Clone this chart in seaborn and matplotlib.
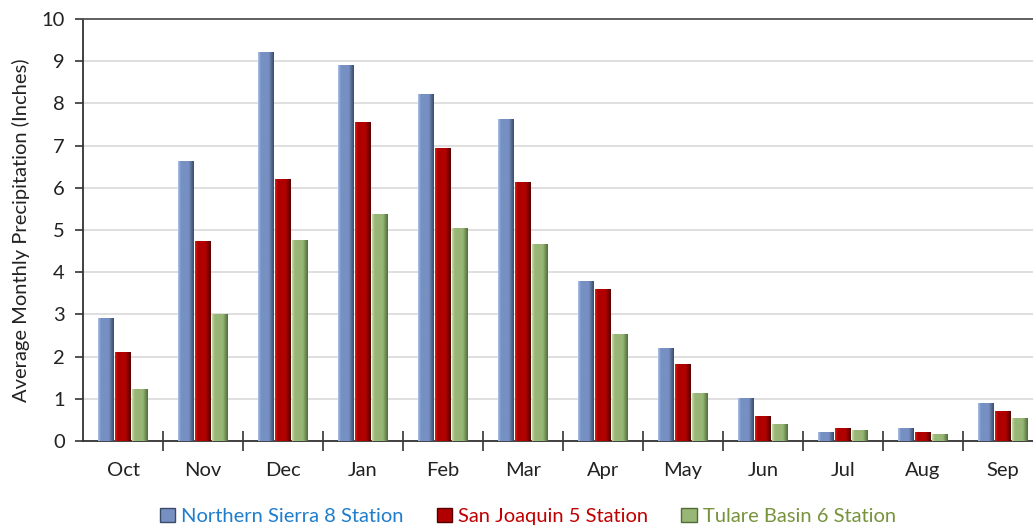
import numpy as np
import pandas as pd
import matplotlib
matplotlib.use("Agg")
import matplotlib.pyplot as plt
import seaborn as sns
from matplotlib.colors import LinearSegmentedColormap
from matplotlib.patches import Patch

months = ["Oct", "Nov", "Dec", "Jan", "Feb", "Mar", "Apr", "May", "Jun", "Jul", "Aug", "Sep"]
stations = ["Northern Sierra 8 Station", "San Joaquin 5 Station", "Tulare Basin 6 Station"]
northern_sierra = [2.92, 6.63, 9.22, 8.91, 8.22, 7.62, 3.80, 2.20, 1.02, 0.21, 0.30, 0.90]
san_joaquin = [2.12, 4.73, 6.22, 7.55, 6.94, 6.13, 3.61, 1.82, 0.60, 0.30, 0.21, 0.72]
tulare_basin = [1.23, 3.01, 4.76, 5.39, 5.05, 4.67, 2.54, 1.13, 0.41, 0.25, 0.16, 0.55]

df = pd.DataFrame({
    "Month": months * 3,
    "Station": [stations[0]] * 12 + [stations[1]] * 12 + [stations[2]] * 12,
    "Precip": northern_sierra + san_joaquin + tulare_basin,
})

base_colors = ["#7690C2", "#B00000", "#98B676"]
light_colors = ["#A9C0EA", "#E01A1A", "#C4DCA4"]
dark_colors = ["#3A4A68", "#550000", "#526C36"]
text_colors = ["#1F7DCC", "#C00000", "#77933C"]

sns.set_theme(style="white")
plt.rcParams["font.family"] = ["Lato", "DejaVu Sans"]
FS = 14.5

fig = plt.figure(figsize=(10.33, 5.29), dpi=100)
ax = fig.add_axes([83 / 1033, 88 / 529, 960 / 1033, 422 / 529])

sns.barplot(data=df, x="Month", y="Precip", hue="Station", order=months,
            hue_order=stations, palette=base_colors, width=0.65, gap=0.08,
            ax=ax, legend=False, saturation=1, edgecolor="none", zorder=3)

# bevel-like shading on each bar
bars = [p for p in ax.patches if p.get_height() > 0]
for p in bars:
    x0 = p.get_x()
    w = p.get_width()
    h = p.get_height()
    fc = p.get_facecolor()
    idx = int(np.argmin([np.sum((np.array(matplotlib.colors.to_rgb(c)) - np.array(fc[:3])) ** 2) for c in base_colors]))
    cmap = LinearSegmentedColormap.from_list(
        "b", [(0, light_colors[idx]), (0.18, base_colors[idx]), (0.68, base_colors[idx]), (1.0, dark_colors[idx])])
    grad = np.linspace(0, 1, 64).reshape(1, -1)
    im = ax.imshow(grad, extent=[x0, x0 + w, 0, h], aspect="auto", cmap=cmap,
                   zorder=3.5, interpolation="bilinear")
    im.set_clip_path(p)

ax.set_xlim(-0.5, 11.5)
ax.set_ylim(0, 10)
ax.set_yticks(range(0, 11))
ax.set_xticks(range(12))
ax.set_xticklabels(months)
ax.set_xticks(np.arange(0.5, 11.5, 1.0), minor=True)
ax.tick_params(axis="x", which="major", length=0, labelsize=FS, pad=15, colors="#222222")
ax.tick_params(axis="x", which="minor", direction="inout", length=15, width=1.2, color="#333333", bottom=True)
ax.tick_params(axis="y", which="major", direction="out", length=6, width=1.2, color="#333333",
               labelsize=FS, pad=7, left=True, labelcolor="#222222")
ax.yaxis.grid(True, color="#D9D9D9", linewidth=1.2, zorder=0)
ax.set_axisbelow(True)
ax.set_xlabel("")
ax.set_ylabel("Average Monthly Precipitation (Inches)", fontsize=FS, color="#222222", labelpad=8)

for side in ["left", "bottom", "top"]:
    ax.spines[side].set_visible(True)
    ax.spines[side].set_color("#333333")
    ax.spines[side].set_linewidth(1.3)
ax.spines["top"].set_color("#555555")
ax.spines["right"].set_visible(False)

handles = [Patch(facecolor=base_colors[i], edgecolor=dark_colors[i], linewidth=1) for i in range(3)]
leg = fig.legend(handles, stations, loc="center", bbox_to_anchor=(0.511, 0.024), ncol=3,
                 frameon=False, fontsize=FS, handlelength=0.75, handleheight=0.75,
                 handletextpad=0.3, columnspacing=1.65)
for t, c in zip(leg.get_texts(), text_colors):
    t.set_color(c)

fig.savefig("out.png", dpi=100)
